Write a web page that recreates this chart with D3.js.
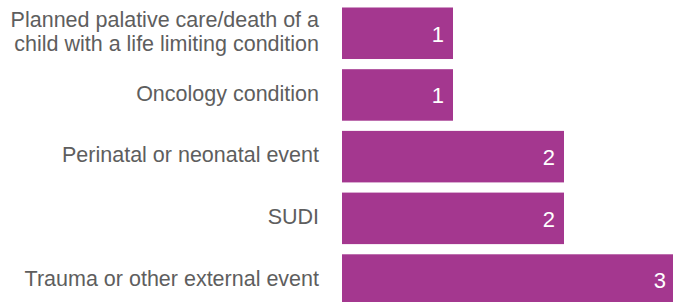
<!DOCTYPE html>
<meta charset="utf-8">
<script src="https://d3js.org/d3.v7.min.js"></script>
<style>
  body { margin: 0; background: #fff; }
  text { font-family: "Liberation Sans", Arial, sans-serif; }
</style>
<body></body>
<script>
// data
var categories = [
  ["Planned palative care/death of a", "child with a life limiting condition"],
  ["Oncology condition"],
  ["Perinatal or neonatal event"],
  ["SUDI"],
  ["Trauma or other external event"]
];
var values = [1, 1, 2, 2, 3];

var width = 673, height = 302;

var svg = d3.select("body").append("svg")
    .attr("width", width)
    .attr("height", height);

var keys = categories.map(function(d) { return d.join(" "); });

var xScale = d3.scaleLinear().domain([0, 3]).range([342, 675]);

var yScale = d3.scaleBand()
    .domain(keys)
    .range([2.4, 310.9])
    .paddingInner(0.165)
    .paddingOuter(0.0825);

var rows = svg.selectAll(".row")
  .data(keys)
  .enter().append("g")
    .attr("class", "row");

rows.append("rect")
    .attr("x", xScale(0))
    .attr("y", function(d) { return yScale(d); })
    .attr("width", function(d, i) { return xScale(values[i]) - xScale(0); })
    .attr("height", yScale.bandwidth())
    .style("fill", "#a4378f");

// value labels
rows.append("text")
    .attr("x", function(d, i) { return xScale(values[i]) - 9; })
    .attr("y", function(d) { return yScale(d) + yScale.bandwidth() / 2; })
    .attr("dy", "0.38em")
    .attr("text-anchor", "end")
    .style("fill", "#fff")
    .style("font-size", "22px")
    .text(function(d, i) { return values[i]; });

// category labels
rows.append("text")
    .attr("x", 319)
    .attr("y", function(d) { return yScale(d) + yScale.bandwidth() / 2; })
    .attr("text-anchor", "end")
    .style("fill", "#5e5e5e")
    .style("font-size", "21.5px")
  .each(function(d, i) {
    var lines = categories[i];
    var t = d3.select(this);
    lines.forEach(function(line, j) {
      t.append("tspan")
        .attr("x", 319)
        .attr("dy", j === 0 ? (0.27 - (lines.length - 1) * 0.56) + "em" : "1.12em")
        .text(line);
    });
  });
</script>
